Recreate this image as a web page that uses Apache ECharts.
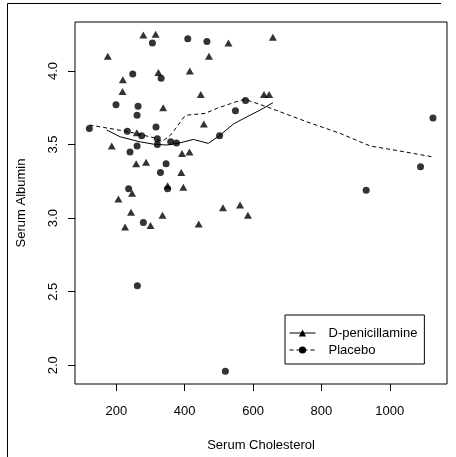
<!DOCTYPE html>
<html>
<head>
<meta charset="utf-8">
<script src="https://cdn.jsdelivr.net/npm/echarts@6/dist/echarts.min.js"></script>
<style>
html,body{margin:0;padding:0;background:#fff;}
#c{width:456px;height:457px;}
</style>
</head>
<body>
<div id="c"></div>
<script>
// ---- data ----
const dpenX = [279, 315, 175, 528, 471, 415, 323, 219, 218, 447, 337, 456, 186.5, 392, 414, 258, 287, 390, 350, 396, 206, 246, 512, 562, 585, 632, 647, 658, 225.5, 243, 300, 335, 441, 260];
const dpenY = [4.245, 4.25, 4.10, 4.19, 4.10, 4.00, 3.99, 3.94, 3.86, 3.84, 3.75, 3.64, 3.49, 3.44, 3.45, 3.37, 3.38, 3.31, 3.22, 3.21, 3.13, 3.17, 3.07, 3.09, 3.02, 3.84, 3.84, 4.23, 2.94, 3.04, 2.95, 3.02, 2.96, 3.58];

const placX = [121, 305.5, 409, 465, 248, 331, 199, 263.5, 260.6, 578, 548.5, 232, 316, 274, 320, 320, 359, 376, 502, 260.6, 240, 345.5, 329, 350, 236, 1126.5, 1090, 931, 279, 261.5, 519];
const placY = [3.61, 4.19, 4.22, 4.20, 3.98, 3.95, 3.77, 3.76, 3.70, 3.80, 3.73, 3.59, 3.62, 3.56, 3.54, 3.50, 3.52, 3.51, 3.56, 3.49, 3.45, 3.37, 3.31, 3.20, 3.20, 3.68, 3.35, 3.19, 2.97, 2.54, 1.96];

// smoothed (lowess) curves as drawn in the reference
const dpenSmoothX = [172, 211, 269, 308, 348, 386.5, 425.5, 469, 502, 542.6, 591.5, 621, 658];
const dpenSmoothY = [3.599, 3.553, 3.519, 3.503, 3.497, 3.512, 3.535, 3.508, 3.561, 3.64, 3.70, 3.735, 3.784];

const placSmoothX = [121, 230, 313, 333, 357, 377, 395, 406, 460, 494, 562, 577, 640, 757, 855, 943, 1021, 1124];
const placSmoothY = [3.633, 3.59, 3.545, 3.52, 3.56, 3.62, 3.68, 3.70, 3.712, 3.746, 3.80, 3.807, 3.757, 3.655, 3.576, 3.49, 3.46, 3.417];

const xTicks = [200, 400, 600, 800, 1000];
const yTicks = [2.0, 2.5, 3.0, 3.5, 4.0];
const seriesNames = ['D-penicillamine', 'Placebo'];
const xTitle = 'Serum Cholesterol';
const yTitle = 'Serum Albumin';

const zip = (a, b) => a.map((v, i) => [v, b[i]]);
const FONT = 'Liberation Sans, Arial, Helvetica, sans-serif';

const chart = echarts.init(document.getElementById('c'), null, {renderer: 'canvas'});
chart.setOption({
  animation: false,
  backgroundColor: '#fff',
  textStyle: {fontFamily: FONT},
  grid: {left: 75, top: 22, right: 9, bottom: 73, show: true, borderColor: '#000', borderWidth: 1, backgroundColor: 'transparent'},
  xAxis: {
    type: 'value', min: 79, max: 1167.5,
    name: xTitle, nameLocation: 'middle', nameGap: 55,
    nameTextStyle: {fontSize: 13, color: '#000', fontFamily: FONT},
    axisLine: {show: false},
    splitLine: {show: false},
    axisTick: {show: true, length: 7, customValues: xTicks, lineStyle: {color: '#000'}},
    axisLabel: {customValues: xTicks, fontSize: 13, color: '#000', margin: 21, fontFamily: FONT,
      formatter: v => String(v)}
  },
  yAxis: {
    type: 'value', min: 1.873, max: 4.333,
    name: yTitle, nameLocation: 'middle', nameGap: 47,
    nameTextStyle: {fontSize: 13, color: '#000', fontFamily: FONT},
    axisLine: {show: false},
    splitLine: {show: false},
    axisTick: {show: true, length: 7, customValues: yTicks, lineStyle: {color: '#000'}},
    axisLabel: {customValues: yTicks, fontSize: 13, color: '#000', margin: 15, rotate: 90, fontFamily: FONT,
      formatter: v => v.toFixed(1)}
  },
  legend: {
    data: seriesNames,
    orient: 'vertical',
    left: 285, top: 315,
    padding: [11, 7, 7, 4],
    itemGap: 3,
    itemWidth: 26, itemHeight: 9,
    borderColor: '#000', borderWidth: 1, borderRadius: 0,
    backgroundColor: '#fff',
    selectedMode: false,
    lineStyle: {width: 1},
    textStyle: {fontSize: 13, color: '#000', fontFamily: FONT, lineHeight: 14, padding: [0, 0, 0, 8]}
  },
  series: [
    {name: seriesNames[0], type: 'line', data: zip(dpenSmoothX, dpenSmoothY), symbol: 'triangle', showSymbol: false,
      smooth: false, lineStyle: {color: '#000', width: 1, type: 'solid'}, itemStyle: {color: '#000'}, z: 3, silent: true},
    {name: seriesNames[1], type: 'line', data: zip(placSmoothX, placSmoothY), symbol: 'circle', showSymbol: false,
      smooth: false, lineStyle: {color: '#000', width: 1, type: [4, 3]}, itemStyle: {color: '#000'}, z: 3, silent: true},
    {name: 'pts-dpen', type: 'scatter', data: zip(dpenX, dpenY), symbol: 'triangle', symbolSize: [8, 7],
      itemStyle: {color: '#000'}, z: 4, silent: true},
    {name: 'pts-plac', type: 'scatter', data: zip(placX, placY), symbol: 'circle', symbolSize: 7,
      itemStyle: {color: '#000'}, z: 4, silent: true}
  ],
  graphic: [
    {type: 'polyline', shape: {points: [[7.5, 457], [7.5, 3.5], [441, 3.5]]}, style: {stroke: '#000', lineWidth: 1, fill: null}, silent: true}
  ]
});
</script>
</body>
</html>
